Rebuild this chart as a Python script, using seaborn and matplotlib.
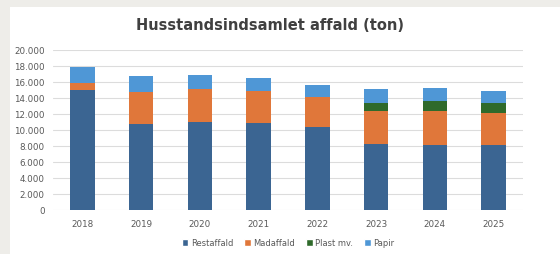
import numpy as np
import pandas as pd
import matplotlib
matplotlib.use("Agg")
import matplotlib.pyplot as plt
from matplotlib.ticker import FuncFormatter
from matplotlib.patches import Rectangle
import seaborn as sns

years = ["2018", "2019", "2020", "2021", "2022", "2023", "2024", "2025"]
restaffald = [15000, 10700, 11000, 10800, 10350, 8250, 8150, 8050]
madaffald = [800, 4000, 4100, 4050, 3800, 4100, 4250, 4100]
plast = [0, 0, 0, 0, 0, 1000, 1150, 1200]
papir = [2000, 2000, 1750, 1650, 1450, 1700, 1700, 1550]

series = ["Restaffald", "Madaffald", "Plast mv.", "Papir"]
colors = ["#3b6592", "#e0773a", "#2f6a2b", "#4f97d6"]


def dk_format(v, pos):
    return f"{int(v):,}".replace(",", ".")


if __name__ == "__main__":
    sns.set_style("white")
    plt.rcParams["font.family"] = ["DejaVu Sans"]

    data = pd.DataFrame({"year": years, "Restaffald": restaffald,
                         "Madaffald": madaffald, "Plast mv.": plast,
                         "Papir": papir})
    # cumulative totals, drawn from top down so each layer overlays the next
    cum = data[series].cumsum(axis=1)

    fig = plt.figure(figsize=(5.6, 2.55), dpi=100)
    fig.patch.set_facecolor("#eeede9")
    panel = Rectangle((10 / 560, 0), 1, 1 - 8 / 255, transform=fig.transFigure,
                      facecolor="white", edgecolor="none", zorder=-10)
    fig.add_artist(panel)
    ax = fig.add_axes([53 / 560, 44.3 / 255, 470 / 560, 160 / 255])
    ax.set_facecolor("none")

    for name, col in zip(series[::-1], colors[::-1]):
        sns.barplot(x=data["year"], y=cum[name], color=col, width=0.42,
                    ax=ax, saturation=1, linewidth=0, zorder=3)

    ax.set_ylim(0, 20000)
    ax.set_yticks(np.arange(0, 20001, 2000))
    ax.yaxis.set_major_formatter(FuncFormatter(dk_format))
    ax.grid(axis="y", color="#dcdcdc", linewidth=0.8, zorder=0)
    ax.set_axisbelow(True)
    for s in ax.spines.values():
        s.set_visible(False)
    ax.tick_params(axis="both", length=0, labelsize=6.3, colors="#595959")
    ax.tick_params(axis="y", pad=6)
    ax.tick_params(axis="x", pad=7)
    ax.set_xlabel("")
    ax.set_ylabel("")

    fig.text(270 / 560, 1 - 26 / 255, "Husstandsindsamlet affald (ton)",
             ha="center", va="center", fontsize=10.5, fontweight="bold",
             color="#404040")

    handles = [Rectangle((0, 0), 1, 1, facecolor=c) for c in colors]
    fig.legend(handles, series, loc="center", bbox_to_anchor=(288 / 560, 1 - 244 / 255),
               ncol=4, frameon=False, fontsize=6, labelcolor="#595959",
               handlelength=0.8, handleheight=0.8, handletextpad=0.3,
               columnspacing=1.3)

    fig.savefig("out.png", dpi=100, facecolor=fig.get_facecolor())
    plt.close(fig)
